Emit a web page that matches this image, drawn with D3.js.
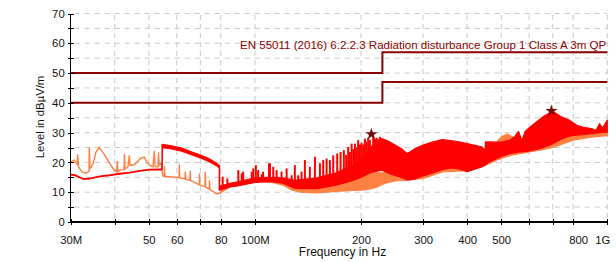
<!DOCTYPE html>
<html><head><meta charset="utf-8">
<script src="https://cdn.jsdelivr.net/npm/d3@7"></script>
<style>
html,body{margin:0;padding:0;background:#fff;}
svg{display:block;font-family:"Liberation Sans",Arial,sans-serif;}
</style></head>
<body>
<svg id="chart" width="616" height="262"></svg>
<script>
// ---------- DATA (frequency in MHz, level in dBµV/m) ----------
const xTickValues = [30,40,50,60,70,80,100,200,300,400,500,600,700,800,1000];
const xTickLabels = ["30M","","50","60","","80","100M","200","300","400","500","","","800","1G"];
const yTickValues = [0,5,10,15,20,25,30,35,40,45,50,55,60,65,70];
const yTickLabels = ["0","","10","","20","","30","","40","","50","","60","","70"];

const limitFreq  = [30, 230, 230, 1000];
const limitUpper = [50, 50, 57, 57];
const limitLower = [40, 40, 47, 47];
const limitName  = "EN 55011 (2016) 6.2.2.3 Radiation disturbance Group 1 Class A 3m QP";

// orange trace, 30–80 MHz
const orangeFreq  = [30.0,30.65,31.26,31.40,31.57,32.30,33.16,33.81,33.88,34.03,34.70,35.39,36.16,36.80,37.78,38.78,39.80,40.51,40.67,40.86,41.67,42.49,42.63,42.77,43.62,44.00,44.20,45.37,46.57,47.49,48.53,49.39,50.36,51.36,51.80,52.04,53.07,53.24,53.42,54.12,54.48,54.73,55.30,55.37,55.55,57.39,60.87,60.99,61.2,63.31,63.43,63.6,65.40,65.53,65.7,67.58,69.50,69.6,69.8,72.13,72.27,72.5,74.19,74.3,74.5,76.0,77.86,80];
const orangeLevel = [20.2,20.8,19.5,22.7,18.5,16.8,16.4,17.0,25.2,18.0,19.5,23.5,25.0,23.8,21.8,19.5,17.5,16.9,20.4,17.0,17.5,17.6,22.8,17.8,18.5,22.4,19.0,19.2,20.5,21.5,21.7,20.0,19.0,18.5,23.9,18.6,18.5,23.4,19.0,19.8,18.0,15.5,15.3,18.7,15.3,15.2,14.9,19.4,14.8,14.5,16.9,14.4,14.0,17.2,13.9,13.2,12.5,16.3,12.4,11.8,16.9,11.7,11.0,14.0,10.9,10.3,9.4,9.8];

// orange band (min/max per frequency), 80 MHz – 1 GHz
const orangeBandFreq = [80,85,90,95,101,107,113,120,127,135,150,170,190,205,220,229,235,250,280,300,340,400,450,470,490,500,520,540,555,600,650,700,750,800,900,1000];
const orangeBandMin  = [9.8,11.8,12.3,13.3,13.6,13.4,13.2,12.4,10.8,10.0,9.8,10.3,10.6,10.8,11.5,12.5,13.0,13.8,14.2,14.6,16.8,17.2,19.1,20.0,21.0,21.3,22.0,22.5,22.8,23.5,24.2,25.0,26.3,27.5,28.5,29.0];
const orangeBandMax  = [10.4,12.4,13.0,14.0,14.3,14.2,14.0,13.5,13.0,12.5,12.5,13.5,14.5,15.5,16.5,16.5,16.5,17.0,17.5,18.0,20.0,20.5,22.0,22.5,27.5,28.5,29.5,28.5,26.0,26.0,30.0,31.0,31.0,30.5,30.5,31.0];

// red trace, 30–54.6 MHz
const redFreq  = [30.0,30.85,32.6,34.0,36.3,38.7,41.3,44.1,47.1,50.2,53.6,54.5];
const redLevel = [15.9,15.7,14.4,14.6,15.3,15.7,16.2,16.6,17.2,17.6,17.7,17.6];

// red band, 54.6–79.3 MHz
const redBandAFreq = [54.6,58,62,66,70,74,78,79.3];
const redBandAMin  = [25.0,24.5,23.8,22.6,21.5,20.3,18.8,18.0];
const redBandAMax  = [26.1,25.6,24.8,23.6,22.5,21.3,19.6,19.0];

// red band, 79.3 MHz – 1 GHz
const redBandBFreq = [79.3,85,90,100,110,120,130,150,170,190,200,210,220,229.5,240,260,270,275,285,300,320,340,360,380,400,440,450,451,460,500,530,545,560,572,585,620,660,700,740,780,820,850,900,930,950,970,1000];
const redBandBMin  = [10.7,11.8,12.2,13.3,13.6,13.0,11.3,11.2,12.4,14.0,15.0,16.2,17.0,17.4,16.3,15.0,14.1,14.1,14.5,15.5,16.5,17.6,18.2,17.8,16.9,18.5,19.1,19.1,20.0,22.0,23.0,23.2,23.5,23.5,23.6,24.2,25.0,26.3,27.8,28.8,29.2,29.3,29.7,29.9,30.0,30.1,30.2];
const redBandBMax  = [12.0,13.0,13.6,14.8,15.0,14.8,14.0,14.8,16.5,19.0,21.0,24.0,27.0,28.0,27.0,24.7,23.0,23.5,24.7,25.8,26.9,27.7,27.3,26.9,26.3,25.2,24.1,26.9,26.9,26.8,27.5,28.5,30.4,27.3,30.5,33.0,35.5,37.2,35.3,34.2,32.5,31.9,31.4,30.8,33.0,31.5,34.2];

// red spikes 80–230 MHz
const spikeFreq = [81.0,83.5,89.7,91.7,92.6,97.9,98.9,100.6,102.1,104.5,105.5,109.6,110.3,112.7,115.2,119.0,123.0,127.1,129.8,132.7,135.6,138.6,143.2,148.0,152.9,156.2,159.7,163.2,166.8,171.2,175.0,178.8,181.5,183.9,186.0,188.1,190.2,192.2,194.2,196.3,198.6,200.8,203.0,205.1,207.4,209.6,212.0,216.6,219.0,221.4,223.8,226.3];
const spikeBase = [11.0,11.5,12.2,12.4,12.5,13.2,13.3,13.3,13.4,13.5,13.5,13.6,13.6,13.5,13.4,13.1,12.6,12.0,11.4,11.3,11.3,11.3,11.2,11.2,11.4,11.6,11.9,12.1,12.2,12.5,12.9,13.2,13.4,13.6,13.8,14.0,14.1,14.2,14.4,14.6,14.9,15.1,15.3,15.6,15.9,16.2,16.4,16.7,16.9,17.0,17.2,17.3];
const spikeTop  = [15.2,14.6,17.4,16.3,16.9,16.9,18.0,19.1,17.4,16.0,16.9,19.7,19.7,18.5,17.4,16.9,18.0,15.7,19.1,15.7,16.9,20.8,18.5,21.9,19.7,20.8,21.3,20.8,22.4,23.0,23.5,24.1,22.5,25.2,23.5,26.3,24.5,26.3,25.0,27.5,26.0,26.6,26.0,28.0,27.0,28.3,27.5,29.1,28.0,28.3,27.8,28.6];

// final measurement markers
const markerFreq  = [214, 694];
const markerLevel = [29.5, 37.3];

// ---------- DRAWING ----------
const svg = d3.select("#chart");
const x = d3.scaleLog().domain([30, 1000]).range([70.7, 607.3]);
const y = d3.scaleLinear().domain([0, 70]).range([222, 13.5]);
const FONT = "11.3px";

const cOrange = "#ff8040", cRed = "#ff0000", cLimit = "#8b0000", cGrid = "#c8c8c8";

// grid
const g = svg.append("g");
g.selectAll(".hg").data(yTickValues.filter(v => v > 0)).join("line")
  .attr("x1", x(30) + 4).attr("x2", x(1000))
  .attr("y1", d => y(d)).attr("y2", d => y(d))
  .attr("stroke", cGrid).attr("stroke-width", 1).attr("stroke-dasharray", "5,5");
g.selectAll(".vg").data(xTickValues.filter(v => v > 30)).join("line")
  .attr("x1", d => x(d)).attr("x2", d => x(d))
  .attr("y1", y(0) - 4).attr("y2", y(70))
  .attr("stroke", cGrid).attr("stroke-width", 1).attr("stroke-dasharray", "5,4");

// limit lines
const limPts = arr => limitFreq.map((f, i) => [f, arr[i]]);
const line = d3.line().x(d => x(d[0])).y(d => y(d[1]));
[limitUpper, limitLower].forEach(arr => {
  svg.append("path").attr("d", line(limPts(arr)))
    .attr("fill", "none").attr("stroke", cLimit).attr("stroke-width", 2);
});
svg.append("text").attr("x", x(1000) - 1).attr("y", 48.5)
  .attr("text-anchor", "end").attr("fill", cLimit).style("font-size", "11.55px")
  .text(limitName);

const area = d3.area().x(d => x(d[0])).y0(d => y(d[1])).y1(d => y(d[2]));
function band(fr, mn, mx, color) {
  const pts = fr.map((f, i) => [f, mn[i], mx[i]]);
  svg.append("path").attr("d", area(pts))
    .attr("fill", color).attr("stroke", color).attr("stroke-width", 1.2).attr("stroke-linejoin", "round");
}

// orange series
svg.append("path").attr("d", line(orangeFreq.map((f, i) => [f, orangeLevel[i]])))
  .attr("fill", "none").attr("stroke", cOrange).attr("stroke-width", 1.4);
band(orangeBandFreq, orangeBandMin, orangeBandMax, cOrange);

// red series
svg.append("path").attr("d", line(redFreq.map((f, i) => [f, redLevel[i]])))
  .attr("fill", "none").attr("stroke", cRed).attr("stroke-width", 1.8);
band(redBandAFreq, redBandAMin, redBandAMax, cRed);
svg.append("line").attr("x1", x(redFreq[redFreq.length-1])).attr("x2", x(redBandAFreq[0]))
  .attr("y1", y(redLevel[redLevel.length-1])).attr("y2", y(redBandAMax[0]))
  .attr("stroke", cRed).attr("stroke-width", 1.6);
svg.append("line").attr("x1", x(redBandAFreq[redBandAFreq.length-1])).attr("x2", x(redBandBFreq[0]))
  .attr("y1", y(redBandAMin[redBandAMin.length-1])).attr("y2", y(redBandBMin[0]))
  .attr("stroke", cRed).attr("stroke-width", 1.6);
band(redBandBFreq, redBandBMin, redBandBMax, cRed);
svg.append("g").selectAll("line").data(spikeFreq.map((f, i) => [f, spikeBase[i], spikeTop[i]])).join("line")
  .attr("x1", d => x(d[0])).attr("x2", d => x(d[0]))
  .attr("y1", d => y(d[1])).attr("y2", d => y(d[2]))
  .attr("stroke", cRed).attr("stroke-width", 2);

// markers
const star = d3.symbol().type(d3.symbolStar).size(45);
svg.append("g").selectAll("path").data(markerFreq.map((f, i) => [f, markerLevel[i]])).join("path")
  .attr("d", star).attr("transform", d => `translate(${x(d[0])},${y(d[1])})`)
  .attr("fill", "#7a0a0a");

// axes
const xAxis = d3.axisBottom(x).tickValues(xTickValues)
  .tickFormat((d, i) => xTickLabels[i]).tickSize(3).tickPadding(11);
const xa = svg.append("g").attr("transform", `translate(0,${y(0)})`).call(xAxis);
xa.select(".domain").attr("d", `M${x(30)},0H${x(1000)}`).attr("stroke", "#000").attr("stroke-width", 1.3);
xa.selectAll(".tick line").attr("y1", -3).attr("y2", 3).attr("stroke", "#000");
xa.selectAll(".tick text").style("font-size", FONT).attr("fill", "#111").attr("font-family", null)
  .attr("dx", (d, i) => xTickLabels[i] === "1G" ? -5 : (xTickLabels[i] === "800" ? 5 : 0));

const yAxis = d3.axisLeft(y).tickValues(yTickValues)
  .tickFormat((d, i) => yTickLabels[i]).tickSize(3).tickPadding(3);
const ya = svg.append("g").attr("transform", `translate(${x(30)},0)`).call(yAxis);
ya.select(".domain").attr("d", `M0,${y(0)}V${y(70)}`).attr("stroke", "#000").attr("stroke-width", 1.3);
ya.selectAll(".tick line").attr("x1", 3).attr("x2", -3).attr("stroke", "#000");
ya.selectAll(".tick text").style("font-size", FONT).attr("fill", "#111").attr("font-family", null);

svg.selectAll(".domain, .tick line").attr("shape-rendering", "crispEdges");

// axis titles
svg.append("text").attr("transform", `translate(44,117) rotate(-90)`)
  .attr("text-anchor", "middle").style("font-size", FONT).attr("fill", "#111")
  .text("Level in dBµV/m");
svg.append("text").attr("x", 342.5).attr("y", 256)
  .attr("text-anchor", "middle").style("font-size", "12px").attr("fill", "#111")
  .text("Frequency in Hz");
</script>
</body></html>
